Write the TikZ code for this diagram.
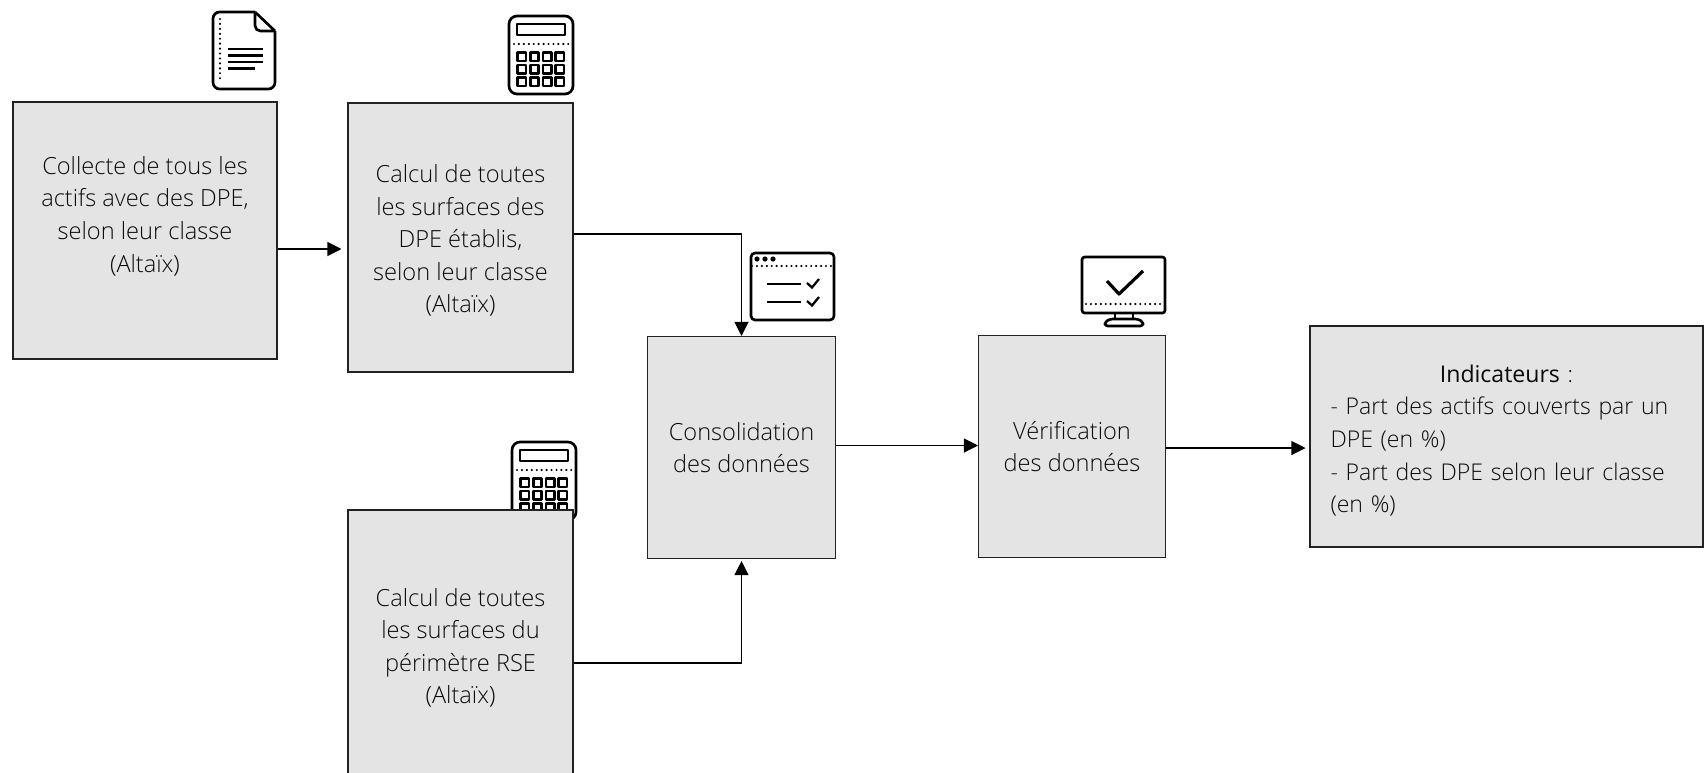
\documentclass[tikz,border=0pt]{standalone}
\usepackage{fontspec}
\setmainfont{Open Sans}[UprightFont=* Light]
\newfontfamily\regfont{Open Sans}
\usetikzlibrary{arrows.meta}
\definecolor{boxfill}{HTML}{E4E4E4}
\definecolor{boxline}{HTML}{222222}
\definecolor{txt}{HTML}{0A0A0A}
\tikzset{
  flowbox/.style={draw=boxline,fill=boxfill,line width=0.8pt,text=txt,align=center,inner sep=0pt,
    font=\fontsize{17.7}{24.4}\selectfont},
  arr/.style={draw=black,line width=0.8pt,-{Triangle[length=10.5pt,width=10.5pt]}},
  ico/.style={draw=black,line width=2pt,line join=round},
  icothin/.style={draw=black,line width=1.7pt},
  icodots/.style={draw=black,line width=1.8pt,line cap=round,dash pattern=on 0pt off 3.7pt},
  calcicon/.pic={
    \draw[ico,rounded corners=6pt] (0,0) rectangle (64,78);
    \draw[ico] (8,8) rectangle (56,19);
    \draw[icodots] (5,28) -- (60,28);
    \foreach \ky in {36.5,49,61.5}
      \foreach \kx in {8.5,21.2,33.9,46.6}
        \draw[ico] (\kx,\ky) rectangle ++(8.5,8.5);
  }
}
\begin{document}
\begin{tikzpicture}[x=0.75pt,y=-0.75pt]
\useasboundingbox (0,0) rectangle (1708,772);
\clip (0,0) rectangle (1708,772);

% document icon
\draw[ico,rounded corners=5pt] (255,12) -- (213,12) -- (213,89) -- (275,89) -- (275,31);
\draw[ico] (255,12) -- (275,31);
\draw[ico,rounded corners=4pt] (255,12) -- (255,31) -- (275,31);
\draw[icodots] (220,19) -- (220,82);
\draw[icothin] (228,49) -- (263,49);
\draw[icothin] (228,55.5) -- (263,55.5);
\draw[icothin] (228,62) -- (263,62);
\draw[icothin] (228,68.5) -- (255,68.5);

% calculators
\pic at (509,16) {calcicon};
\pic at (512,442) {calcicon};

% checklist window icon
\draw[ico,rounded corners=3pt] (751,253) rectangle (834,320);
\fill (757,259) circle (2.6) (765,259) circle (2.6) (773,259) circle (2.6);
\draw[icodots] (752,266) -- (833,266);
\draw[icothin] (767,284) -- (801,284);
\draw[icothin] (767,302) -- (801,302);
\draw[icothin] (807,283) -- (812,287.5) -- (819,279);
\draw[icothin] (807,301) -- (812,305.5) -- (819,297);

% monitor icon
\draw[ico,rounded corners=2pt] (1082,257) rectangle (1165,313);
\draw[ico,line width=2.4pt] (1107,281) -- (1119,294) -- (1143,271);
\draw[icodots] (1086,304) -- (1162,304);
\draw[ico] (1115,313) -- (1115,319) (1133,313) -- (1133,319);
\draw[ico,rounded corners=2pt] (1105,326) -- (1105,322) -- (1110,319) -- (1138,319) -- (1143,322) -- (1143,326) -- cycle;

% boxes
\node[flowbox,minimum width=198pt,minimum height=192.75pt] (collect) at (145,230.5)
  {Collecte de tous les\\actifs avec des DPE,\\selon leur classe\\(Altaïx)\\~};
\node[flowbox,minimum width=168.75pt,minimum height=201.75pt] (calcdpe) at (460.5,237.5)
  {\rule{0pt}{18.4pt}Calcul de toutes\\les surfaces des\\DPE établis,\\selon leur classe\\(Altaïx)};
\node[flowbox,minimum width=168.75pt,minimum height=201.75pt] (calcrse) at (460.5,644.5)
  {\rule{0pt}{18.4pt}Calcul de toutes\\les surfaces du\\périmètre RSE\\(Altaïx)};
\node[flowbox,minimum width=141pt,minimum height=166.5pt] (conso) at (741.5,447.5)
  {Consolidation\\des données};
\node[flowbox,minimum width=140.25pt,minimum height=166.5pt] (verif) at (1072,446.5)
  {Vérification\\des données};
\node[flowbox,minimum width=294.75pt,minimum height=165.75pt,text width=264pt,align=left,
  font=\fontsize{17.3}{24.4}\selectfont] (indic) at (1506.5,436.5)
  {\rule{0pt}{19.2pt}\makebox[264pt][c]{{\regfont Indicateurs} :}\\- Part des actifs couverts par un\\DPE (en \%)\\- Part des DPE selon leur classe\\(en \%)};

% connectors
\coordinate (a1) at (collect.east |- 0,249);
\coordinate (a2) at (calcdpe.west |- 0,249);
\draw[arr,shorten >=4.5pt] (a1) -- (a2);
\coordinate (b1) at (calcdpe.east |- 0,234);
\draw[arr] (b1) -| (conso.north);
\coordinate (c1) at (calcrse.east |- 0,663);
\draw[arr,shorten >=1.5pt] (c1) -| (conso.south);
\coordinate (d1) at (conso.east |- 0,445.5);
\coordinate (d2) at (verif.west |- 0,445.5);
\draw[arr] (d1) -- (d2);
\coordinate (e1) at (verif.east |- 0,448);
\coordinate (e2) at (indic.west |- 0,448);
\draw[arr,shorten >=3pt] (e1) -- (e2);
\end{tikzpicture}
\end{document}
